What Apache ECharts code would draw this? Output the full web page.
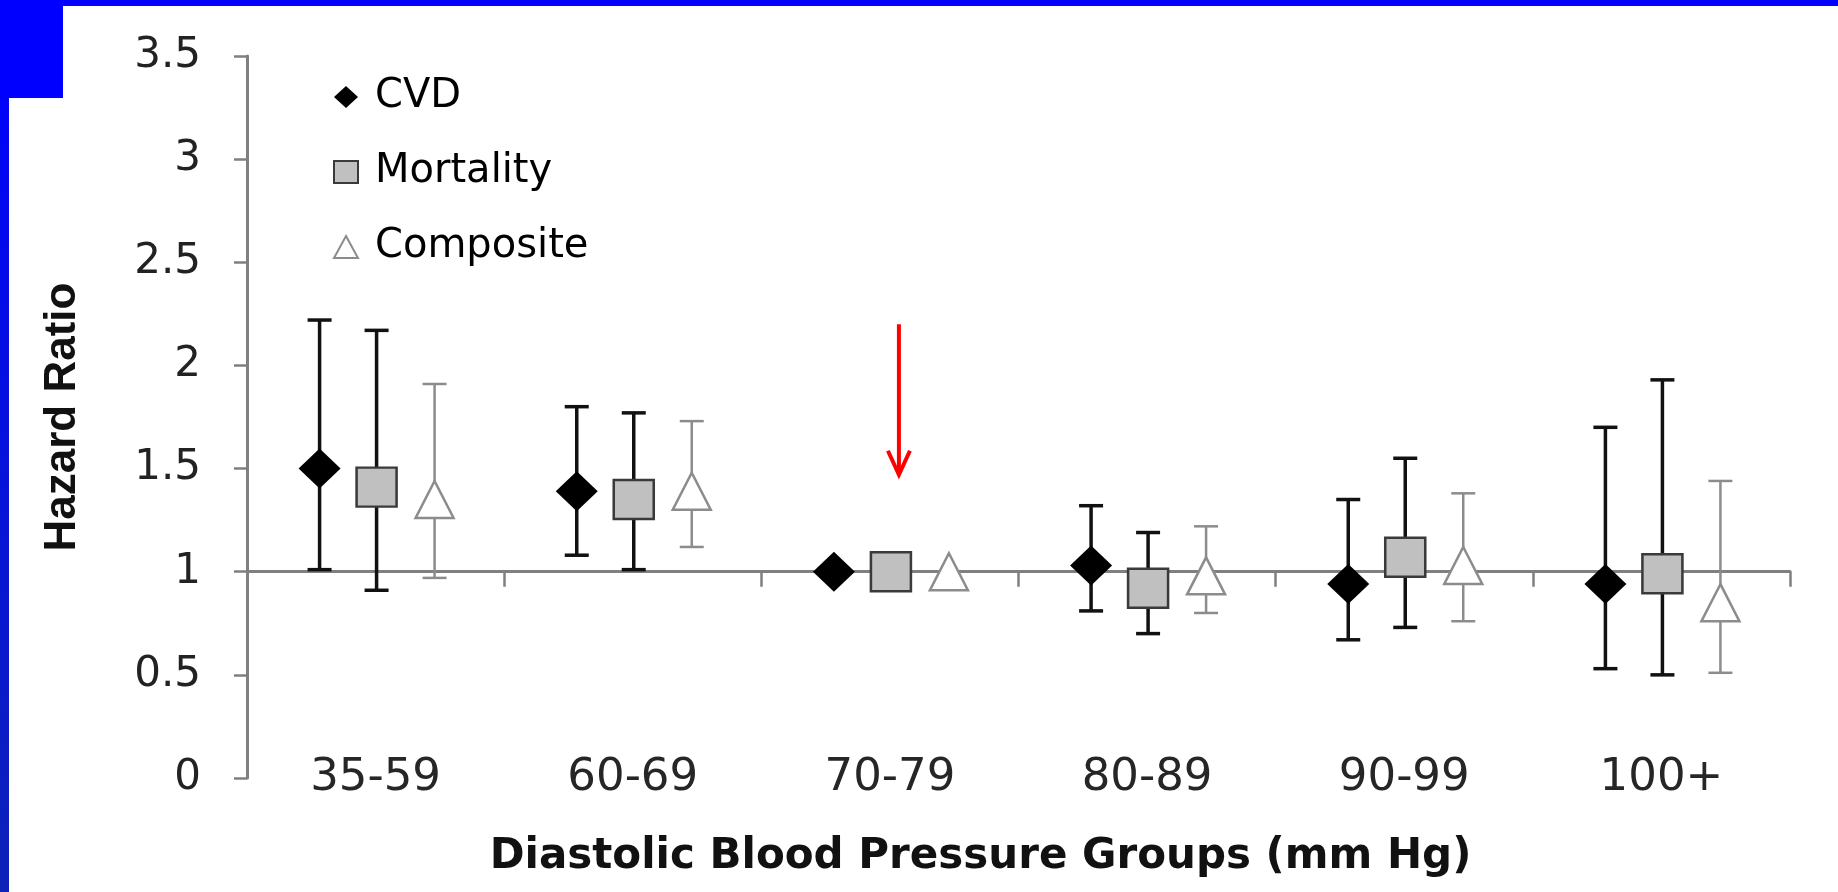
<!DOCTYPE html>
<html>
<head>
<meta charset="utf-8">
<script src="https://cdn.jsdelivr.net/npm/echarts@6/dist/echarts.min.js"></script>
<style>
  html, body { margin: 0; padding: 0; background: #fff; }
  #chart { width: 1838px; height: 892px; }
</style>
</head>
<body>
<div id="chart"></div>
<script>
// blood pressure groups
const categories = ["35-59", "60-69", "70-79", "80-89", "90-99", "100+"];

// hazard ratios with 95% CI (70-79 is the reference group, no CI)
const cvdHR = [1.50, 1.39, 1.00, 1.03, 0.94, 0.94];
const cvdLow = [1.01, 1.08, null, 0.81, 0.67, 0.53];
const cvdHigh = [2.22, 1.80, null, 1.32, 1.35, 1.70];

const mortHR = [1.41, 1.35, 1.00, 0.92, 1.07, 0.99];
const mortLow = [0.91, 1.01, null, 0.70, 0.73, 0.50];
const mortHigh = [2.17, 1.77, null, 1.19, 1.55, 1.93];

const compHR = [1.35, 1.39, 1.00, 0.98, 1.03, 0.85];
const compLow = [0.97, 1.12, null, 0.80, 0.76, 0.51];
const compHigh = [1.91, 1.73, null, 1.22, 1.38, 1.44];

const yMin = 0, yMax = 3.5, yStep = 0.5;
const refLine = 1;

// red arrow annotation (points at the reference group)
const arrowCategory = "70-79";
const arrowFrom = 2.20, arrowTo = 1.47;

const grid = { left: 247, right: 48, top: 56, bottom: 114 };
const gridHeight = 892 - grid.top - grid.bottom;
const axisGray = "#808080";

function errorBars(name, low, high, dx, color, width) {
  const cap = 24;
  const data = categories
    .map((c, i) => (low[i] == null ? null : [i, low[i], high[i]]))
    .filter(d => d);
  return {
    name,
    type: "custom",
    z: 2,
    encode: { x: 0, y: [1, 2] },
    data,
    renderItem: (params, api) => {
      const lo = api.coord([api.value(0), api.value(1)]);
      const hi = api.coord([api.value(0), api.value(2)]);
      const x = lo[0] + dx;
      const style = { stroke: color, lineWidth: width };
      return {
        type: "group",
        children: [
          { type: "line", shape: { x1: x, y1: hi[1], x2: x, y2: lo[1] }, style },
          { type: "line", shape: { x1: x - cap / 2, y1: hi[1], x2: x + cap / 2, y2: hi[1] }, style },
          { type: "line", shape: { x1: x - cap / 2, y1: lo[1], x2: x + cap / 2, y2: lo[1] }, style }
        ]
      };
    }
  };
}

function points(name, values, symbol, size, dx, itemStyle) {
  return {
    name,
    type: "scatter",
    z: 3,
    symbol,
    symbolSize: size,
    symbolOffset: [dx, 0],
    itemStyle: Object.assign({ opacity: 1 }, itemStyle),
    data: values.map((v, i) => [categories[i], v])
  };
}

const chart = echarts.init(document.getElementById("chart"));
chart.setOption({
  backgroundColor: "#fff",
  animation: false,
  grid,
  legend: {
    data: ["CVD", "Mortality", "Composite"],
    orient: "vertical",
    left: 328,
    top: 72,
    itemWidth: 24,
    itemHeight: 22,
    itemGap: 35,
    selectedMode: false,
    textStyle: {
      fontFamily: "DejaVu Sans",
      fontSize: 40,
      lineHeight: 22,
      color: "#000",
      padding: [0, 0, 0, 12]
    }
  },
  xAxis: [
    {
      type: "category",
      data: categories,
      position: "bottom",
      axisLine: { show: false },
      axisTick: { show: false },
      axisLabel: {
        margin: 0,
        verticalAlign: "middle",
        fontFamily: "DejaVu Sans",
        fontSize: 45,
        color: "#262626"
      },
      name: "Diastolic Blood Pressure Groups (mm Hg)",
      nameLocation: "middle",
      nameGap: 58,
      nameTextStyle: {
        fontFamily: "DejaVu Sans",
        fontWeight: "bold",
        fontSize: 42,
        color: "#111",
        padding: [0, 76, 0, 0]
      }
    },
    {
      // horizontal line at HR = 1 with group ticks
      type: "category",
      data: categories,
      position: "bottom",
      offset: -gridHeight * (refLine - yMin) / (yMax - yMin),
      axisLine: { show: true, onZero: false, lineStyle: { color: axisGray, width: 3 } },
      axisTick: { show: true, length: 15, lineStyle: { color: axisGray, width: 2.5 } },
      axisLabel: { show: false }
    }
  ],
  yAxis: {
    type: "value",
    min: yMin,
    max: yMax,
    interval: yStep,
    splitLine: { show: false },
    axisLine: { show: true, lineStyle: { color: axisGray, width: 3 } },
    axisTick: { show: true, length: 13, lineStyle: { color: axisGray, width: 2.5 } },
    axisLabel: {
      margin: 46,
      fontFamily: "DejaVu Sans",
      fontSize: 42,
      color: "#222"
    },
    name: "Hazard Ratio",
    nameLocation: "middle",
    nameRotate: 90,
    nameGap: 162,
    nameTextStyle: {
      fontFamily: "Liberation Sans",
      fontWeight: "bold",
      fontSize: 44,
      color: "#111"
    }
  },
  series: [
    errorBars("CVD CI", cvdLow, cvdHigh, -56, "#111", 3.5),
    errorBars("Mortality CI", mortLow, mortHigh, 1, "#111", 3.5),
    errorBars("Composite CI", compLow, compHigh, 59, "#8c8c8c", 2.5),
    points("CVD", cvdHR, "diamond", [42, 40], -56, { color: "#000" }),
    points("Mortality", mortHR, "rect", [40, 39], 1,
      { color: "#c0c0c0", borderColor: "#3a3a3a", borderWidth: 2.5 }),
    points("Composite", compHR, "triangle", [38, 37], 59,
      { color: "#fff", borderColor: "#8c8c8c", borderWidth: 2.5 })
  ]
});

// slide frame and the red arrow
const arrowStart = chart.convertToPixel({ xAxisIndex: 0, yAxisIndex: 0 }, [arrowCategory, arrowFrom]);
const arrowEnd = chart.convertToPixel({ xAxisIndex: 0, yAxisIndex: 0 }, [arrowCategory, arrowTo]);
const ax = arrowStart[0] + 9;
chart.setOption({
  graphic: [
    {
      type: "rect",
      shape: { x: 0, y: 0, width: 9, height: 892 },
      style: {
        fill: new echarts.graphic.LinearGradient(0, 0, 0, 1, [
          { offset: 0, color: "#0000ff" },
          { offset: 1, color: "#0d22b8" }
        ])
      },
      z: 10
    },
    { type: "rect", shape: { x: 0, y: 0, width: 1838, height: 6 }, style: { fill: "#0000ff" }, z: 10 },
    { type: "rect", shape: { x: 0, y: 0, width: 63, height: 98 }, style: { fill: "#0000ff" }, z: 10 },
    {
      type: "line",
      shape: { x1: ax, y1: arrowStart[1], x2: ax, y2: arrowEnd[1] - 2 },
      style: { stroke: "#ff0000", lineWidth: 4 },
      z: 10
    },
    {
      type: "polyline",
      shape: { points: [[ax - 11, arrowEnd[1] - 24], [ax, arrowEnd[1]], [ax + 11, arrowEnd[1] - 24]] },
      style: { stroke: "#ff0000", lineWidth: 4, fill: null },
      z: 10
    }
  ]
});
</script>
</body>
</html>
